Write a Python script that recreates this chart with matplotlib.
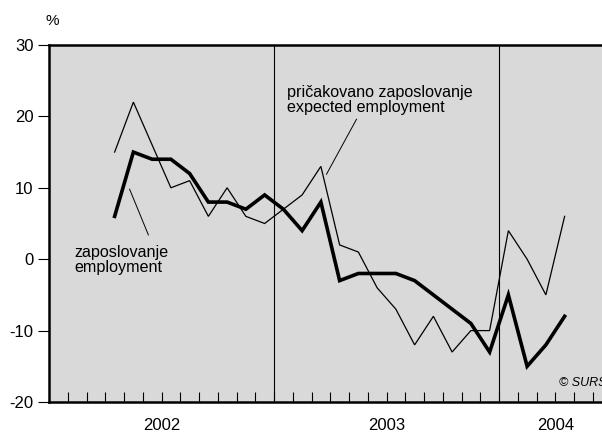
import matplotlib
matplotlib.use("Agg")
import matplotlib.pyplot as plt
import numpy as np

plt.rcParams['font.family'] = ['Liberation Sans', 'DejaVu Sans']
plt.rcParams['axes.unicode_minus'] = False

# Months from April 2002 to April 2004
months = ["2002-04", "2002-05", "2002-06", "2002-07", "2002-08", "2002-09",
          "2002-10", "2002-11", "2002-12",
          "2003-01", "2003-02", "2003-03", "2003-04", "2003-05", "2003-06",
          "2003-07", "2003-08", "2003-09", "2003-10", "2003-11", "2003-12",
          "2004-01", "2004-02", "2004-03", "2004-04"]
employment = [6, 15, 14, 14, 12, 8, 8, 7, 9,
              7, 4, 8, -3, -2, -2, -2, -3, -5, -7, -9, -13,
              -5, -15, -12, -8]
expected_employment = [15, 22, 16, 10, 11, 6, 10, 6, 5,
                       7, 9, 13, 2, 1, -4, -7, -12, -8, -13, -10, -10,
                       4, 0, -5, 6]
years = ["2002", "2003", "2004"]
yticks = [-20, -10, 0, 10, 20, 30]

def month_pos(m):
    y, mo = m.split("-")
    return (int(y) - 2002) * 12 + int(mo) - 1 + 0.5

x = np.array([month_pos(m) for m in months])
XMAX = 30

W, H = 602, 434
fig = plt.figure(figsize=(W / 100, H / 100), dpi=100)
left, bottom = 49 / W, (H - 402) / H
ax = fig.add_axes([left, bottom, 562.5 / W, 357 / H])
ax.set_facecolor('#d9d9d9')

ax.plot(x, expected_employment, color='black', lw=0.9, solid_joinstyle='miter', zorder=3)
ax.plot(x, employment, color='black', lw=2.6, solid_joinstyle='miter', zorder=4)

ax.set_xlim(0, XMAX)
ax.set_ylim(-20, 30)

# year separators
for k in range(1, len(years)):
    ax.axvline(12 * k, color='black', lw=0.8, zorder=2)

ax.set_yticks(yticks)
ax.set_yticklabels([str(v) for v in yticks], fontsize=12)
ax.tick_params(axis='y', direction='out', length=8, width=0.8, pad=3)
ax.set_xticks(np.arange(1, XMAX))
ax.set_xticklabels([])
ax.tick_params(axis='x', direction='in', length=7, width=0.8)

for s in ['left', 'bottom', 'top', 'right']:
    ax.spines[s].set_linewidth(1.8)

for i, yr in enumerate(years):
    start, end = 12 * i, min(12 * (i + 1), XMAX)
    ax.text((start + end) / 2, -0.065, yr, transform=ax.get_xaxis_transform(),
            ha='center', va='center', fontsize=12)

fig.text(52.5 / W, 1 - 21 / H, "%", ha='center', va='center', fontsize=11)

ax.text(12.7, 22.3, "pričakovano zaposlovanje\nexpected employment",
        ha='left', va='center', fontsize=11.6, linespacing=1.0)
ax.plot([16.4, 14.8], [19.6, 11.9], color='black', lw=0.7)

ax.text(1.33, -0.15, "zaposlovanje\nemployment",
        ha='left', va='center', fontsize=11.6, linespacing=1.0)
ax.plot([4.3, 5.3], [9.8, 3.4], color='black', lw=0.7)

ax.text(27.2, -17.4, "© SURS", ha='left', va='center', fontsize=9, style='italic')

fig.savefig("out.png", dpi=100)
